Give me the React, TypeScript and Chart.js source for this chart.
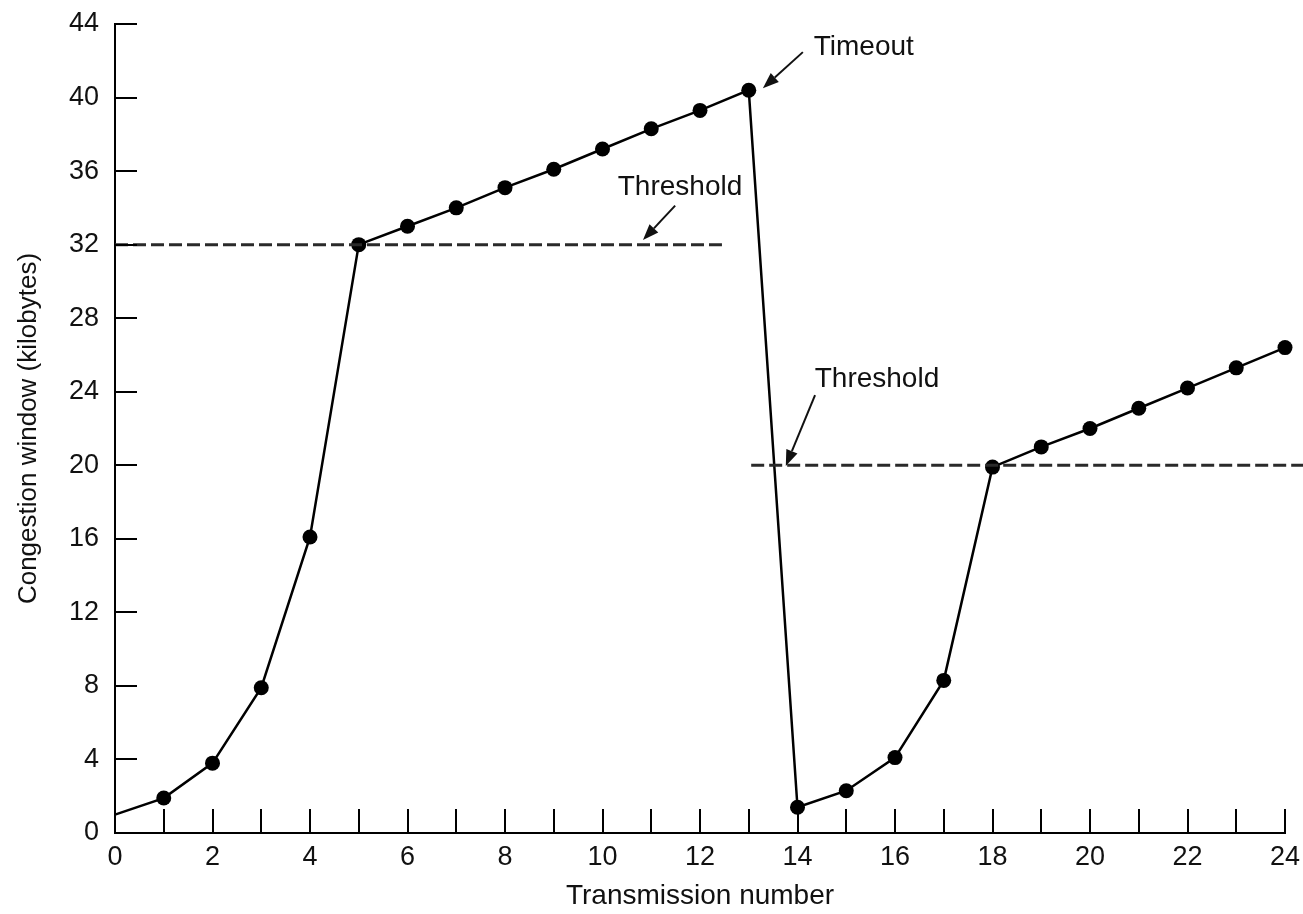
import React, { useEffect, useRef } from "react";
import { Chart, registerables } from "chart.js";

Chart.register(...registerables);

// ---- data ----
const transmissions = [0, 1, 2, 3, 4, 5, 6, 7, 8, 9, 10, 11, 12, 13, 14, 15, 16, 17, 18, 19, 20, 21, 22, 23, 24];
const congestionWindow = [1, 1.9, 3.8, 7.9, 16.1, 32, 33, 34, 35.1, 36.1, 37.2, 38.3, 39.3, 40.4, 1.4, 2.3, 4.1, 8.3, 19.9, 21, 22, 23.1, 24.2, 25.3, 26.4];

const threshold1X = [0, 12.45];
const threshold1Y = [32, 32];
const threshold2X = [13.05, 24.45];
const threshold2Y = [20, 20];

const yTickMin = 0;
const yTickMax = 44;
const yTickStep = 4;
const xTickMin = 0;
const xTickMax = 24;

// annotations: [label, textX, textY, arrowTailX, arrowTailY, arrowHeadX, arrowHeadY]
const annotationLabels = ["Timeout", "Threshold", "Threshold"];
const annotationTextX = [15.36, 11.59, 15.63];
const annotationTextY = [42.74, 35.13, 24.69];
const arrowTailX = [14.11, 11.49, 14.36];
const arrowTailY = [42.47, 34.12, 23.82];
const arrowHeadX = [13.29, 10.83, 13.76];
const arrowHeadY = [40.51, 32.25, 19.96];

const FONT = '"Liberation Sans", Arial, Helvetica, sans-serif';

const innerTicksPlugin = {
  id: "innerTicks",
  afterDatasetsDraw(chart: any) {
    const { ctx, chartArea, scales } = chart;
    const xs = scales.x;
    const ys = scales.y;
    ctx.save();
    ctx.strokeStyle = "#000";
    ctx.lineWidth = 2;
    ctx.beginPath();
    xs.ticks.forEach((t: any) => {
      if (t.value <= xs.min) return;
      const px = Math.round(xs.getPixelForValue(t.value));
      ctx.moveTo(px, chartArea.bottom);
      ctx.lineTo(px, chartArea.bottom - 24);
    });
    ys.ticks.forEach((t: any) => {
      if (t.value <= ys.min) return;
      const py = Math.round(ys.getPixelForValue(t.value));
      ctx.moveTo(chartArea.left, py);
      ctx.lineTo(chartArea.left + 22, py);
    });
    ctx.stroke();
    ctx.restore();
  },
};

const annotationPlugin = {
  id: "annotations",
  afterDatasetsDraw(chart: any) {
    const { ctx, scales } = chart;
    const xs = scales.x;
    const ys = scales.y;
    ctx.save();
    ctx.fillStyle = "#111";
    ctx.strokeStyle = "#111";
    ctx.font = `28px ${FONT}`;
    ctx.textAlign = "center";
    ctx.textBaseline = "middle";
    annotationLabels.forEach((label, i) => {
      const tx = xs.getPixelForValue(annotationTextX[i]);
      const ty = ys.getPixelForValue(annotationTextY[i]);
      ctx.fillText(label, tx, ty);
      const x1 = xs.getPixelForValue(arrowTailX[i]);
      const y1 = ys.getPixelForValue(arrowTailY[i]);
      const x2 = xs.getPixelForValue(arrowHeadX[i]);
      const y2 = ys.getPixelForValue(arrowHeadY[i]);
      const ang = Math.atan2(y2 - y1, x2 - x1);
      const headLen = 16;
      const headW = 6;
      const bx = x2 - headLen * Math.cos(ang);
      const by = y2 - headLen * Math.sin(ang);
      ctx.lineWidth = 2;
      ctx.beginPath();
      ctx.moveTo(x1, y1);
      ctx.lineTo(bx, by);
      ctx.stroke();
      ctx.beginPath();
      ctx.moveTo(x2, y2);
      ctx.lineTo(bx + headW * Math.sin(ang), by - headW * Math.cos(ang));
      ctx.lineTo(bx - headW * Math.sin(ang), by + headW * Math.cos(ang));
      ctx.closePath();
      ctx.fill();
    });
    ctx.restore();
  },
};

export default function App() {
  const canvasRef = useRef<HTMLCanvasElement | null>(null);

  useEffect(() => {
    if (!canvasRef.current) return;
    const mainData = transmissions.map((x, i) => ({ x, y: congestionWindow[i] }));
    const t1 = threshold1X.map((x, i) => ({ x, y: threshold1Y[i] }));
    const t2 = threshold2X.map((x, i) => ({ x, y: threshold2Y[i] }));

    const chart = new Chart(canvasRef.current, {
      type: "line",
      data: {
        datasets: [
          {
            data: t1,
            borderColor: "#2a2a2a",
            borderWidth: 3,
            borderDash: [13, 5],
            pointRadius: 0,
            fill: false,
            tension: 0,
          },
          {
            data: t2,
            borderColor: "#2a2a2a",
            borderWidth: 3,
            borderDash: [13, 5],
            pointRadius: 0,
            fill: false,
            tension: 0,
            clip: false,
          },
          {
            data: mainData,
            borderColor: "#000",
            borderWidth: 2.5,
            backgroundColor: "#000",
            pointBackgroundColor: "#000",
            pointBorderColor: "#000",
            pointRadius: transmissions.map((_, i) => (i === 0 ? 0 : 7.5)),
            pointBorderWidth: 0,
            fill: false,
            tension: 0,
            clip: false,
          },
        ],
      },
      options: {
        animation: false,
        responsive: false,
        events: [],
        layout: { padding: { top: 24, right: 18, bottom: 0, left: 0 } },
        plugins: {
          legend: { display: false },
          tooltip: { enabled: false },
          title: { display: false },
        },
        scales: {
          x: {
            type: "linear",
            min: xTickMin,
            max: xTickMax,
            grid: { display: false, drawTicks: false },
            border: { display: true, color: "#000", width: 2 },
            ticks: {
              stepSize: 1,
              autoSkip: false,
              maxRotation: 0,
              padding: 8,
              color: "#111",
              font: { family: FONT, size: 27 },
              callback: (v: any) => (Number(v) % 2 === 0 ? String(v) : ""),
            },
            title: {
              display: true,
              text: "Transmission number",
              color: "#111",
              font: { family: FONT, size: 28 },
              padding: { top: 4, bottom: 1 },
            },
            afterFit: (scale: any) => {
              scale.height = 81;
              scale.paddingLeft = 0;
              scale.paddingRight = 0;
            },
          },
          y: {
            type: "linear",
            min: yTickMin,
            max: yTickMax,
            grid: { display: false, drawTicks: false },
            border: { display: true, color: "#000", width: 2 },
            ticks: {
              stepSize: yTickStep,
              autoSkip: false,
              padding: 16,
              color: "#111",
              font: { family: FONT, size: 27 },
            },
            title: {
              display: true,
              text: "Congestion window (kilobytes)",
              color: "#111",
              font: { family: FONT, size: 26 },
              padding: { top: 13, bottom: 4 },
            },
            afterFit: (scale: any) => {
              scale.width = 115;
              scale.paddingTop = 0;
              scale.paddingBottom = 0;
            },
          },
        },
      },
      plugins: [innerTicksPlugin, annotationPlugin],
    } as any);
    return () => chart.destroy();
  }, []);

  return (
    <div style={{ position: "absolute", left: 0, top: 0, width: 1303, height: 914, background: "#fff" }}>
      <canvas ref={canvasRef} width={1303} height={914} />
    </div>
  );
}
